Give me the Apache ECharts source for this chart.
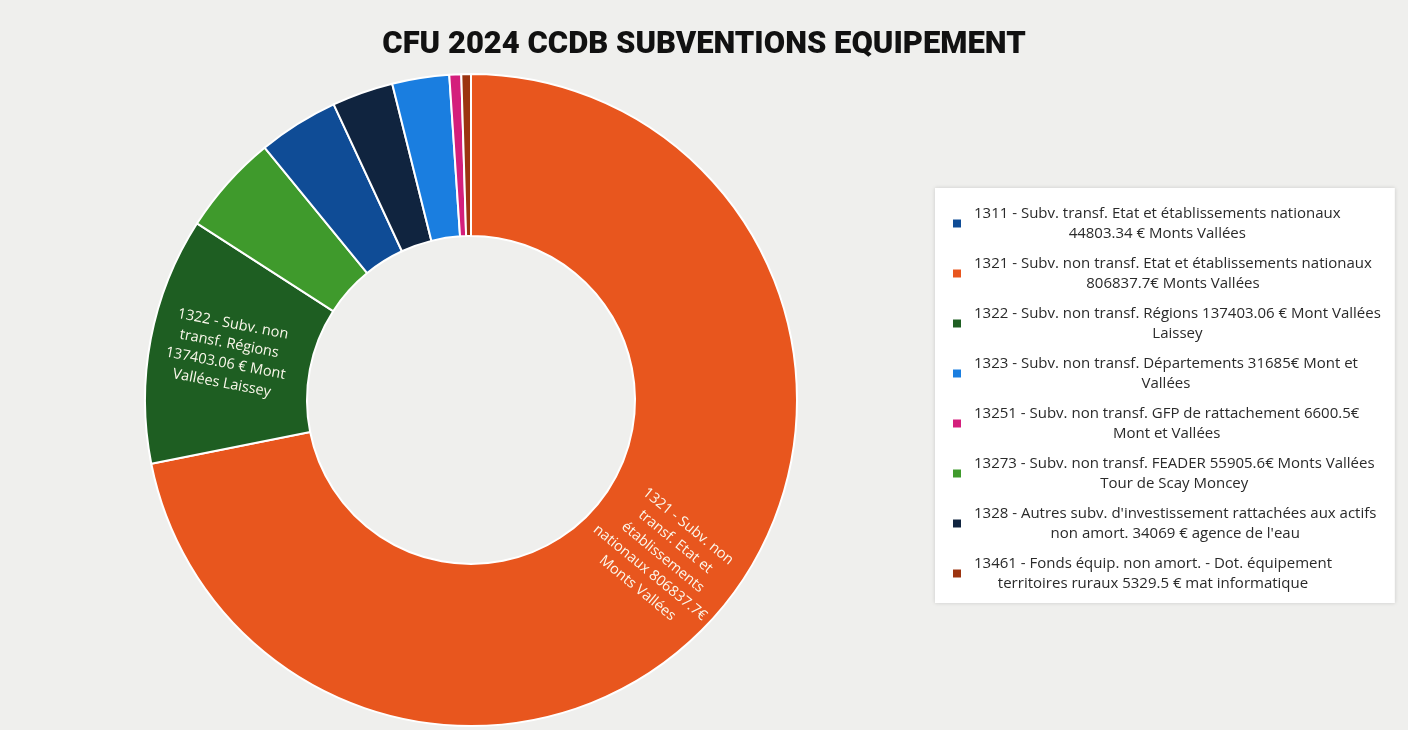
<!DOCTYPE html>
<html>
<head>
<meta charset="utf-8">
<script src="https://cdn.jsdelivr.net/npm/echarts@6/dist/echarts.min.js"></script>
<style>
html,body{margin:0;padding:0;background:#efefed;}
#chart{width:1408px;height:730px;}
</style>
</head>
<body>
<div id="chart"></div>
<script>
const titleText = 'CFU 2024 CCDB SUBVENTIONS EQUIPEMENT';

// legend order
const codes = ['1311', '1321', '1322', '1323', '13251', '13273', '1328', '13461'];
const legendLine1 = [
  '1311 - Subv. transf. Etat et établissements nationaux',
  '1321 - Subv. non transf. Etat et établissements nationaux',
  '1322 - Subv. non transf. Régions 137403.06 € Mont Vallées',
  '1323 - Subv. non transf. Départements 31685€ Mont et',
  '13251 - Subv. non transf. GFP de rattachement 6600.5€',
  '13273 - Subv. non transf. FEADER 55905.6€ Monts Vallées',
  "1328 - Autres subv. d'investissement rattachées aux actifs",
  '13461 - Fonds équip. non amort. - Dot. équipement'
];
const legendLine2 = [
  '44803.34 € Monts Vallées',
  '806837.7€ Monts Vallées',
  'Laissey',
  'Vallées',
  'Mont et Vallées',
  'Tour de Scay Moncey',
  "non amort. 34069 € agence de l'eau",
  'territoires ruraux 5329.5 € mat informatique'
];
const values = [44803.34, 806837.7, 137403.06, 31685, 6600.5, 55905.6, 34069, 5329.5];
const colors = ['#0f4c96', '#e8561e', '#1e5e22', '#1a7ee0', '#d41f7c', '#3f9a2c', '#10243f', '#9c3410'];

// clockwise order of slices from 12 o'clock
const sliceOrder = ['1321', '1322', '13273', '1311', '1328', '1323', '13251', '13461'];

// inside labels
const sliceLabelLines = {
  '1321': ['1321 - Subv. non', 'transf. Etat et', 'établissements', 'nationaux 806837.7€', 'Monts Vallées'],
  '1322': ['1322 - Subv. non', 'transf. Régions', '137403.06 € Mont', 'Vallées Laissey']
};

const names = codes.map((c, i) => legendLine1[i] + ' ' + legendLine2[i]);
const nameIndex = {};
names.forEach((n, i) => nameIndex[n] = i);

const pieData = sliceOrder.map(code => {
  const i = codes.indexOf(code);
  const item = { name: names[i], value: values[i], itemStyle: { color: colors[i] } };
  if (sliceLabelLines[code]) {
    item.label = { show: true, formatter: sliceLabelLines[code].join('\n') };
  }
  return item;
});

const chart = echarts.init(document.getElementById('chart'));
chart.setOption({
  backgroundColor: '#efefed',
  animation: false,
  title: {
    text: titleText,
    left: 'center',
    top: 25,
    textStyle: { fontFamily: 'Roboto', fontWeight: 900, fontSize: 31, color: '#111' }
  },
  legend: {
    orient: 'vertical',
    left: 935,
    top: 188,
    data: names,
    selectedMode: false,
    icon: 'rect',
    itemWidth: 10,
    itemHeight: 10,
    itemGap: 15,
    backgroundColor: '#ffffff',
    padding: [18, 14, 12, 16],
    shadowBlur: 4,
    shadowColor: 'rgba(0,0,0,0.15)',
    formatter: function (name) {
      const i = nameIndex[name];
      return '{a|' + legendLine1[i] + '}\n{a|' + legendLine2[i] + '}';
    },
    textStyle: {
      padding: [0, 0, 0, 7],
      rich: {
        a: { fontFamily: 'Open Sans', fontSize: 15, lineHeight: 20, color: '#2a2a2a', align: 'center' }
      }
    }
  },
  series: [{
    type: 'pie',
    center: [471, 400],
    radius: [164, 326],
    startAngle: 90,
    clockwise: true,
    avoidLabelOverlap: false,
    data: pieData,
    itemStyle: { borderColor: '#ffffff', borderWidth: 2 },
    label: {
      show: false,
      position: 'inside',
      rotate: 'radial',
      color: '#fbf8ec',
      fontFamily: 'Open Sans',
      fontWeight: 500,
      fontSize: 14.5,
      lineHeight: 20,
      align: 'center'
    },
    labelLine: { show: false },
    emphasis: { disabled: true }
  }]
});
</script>
</body>
</html>
